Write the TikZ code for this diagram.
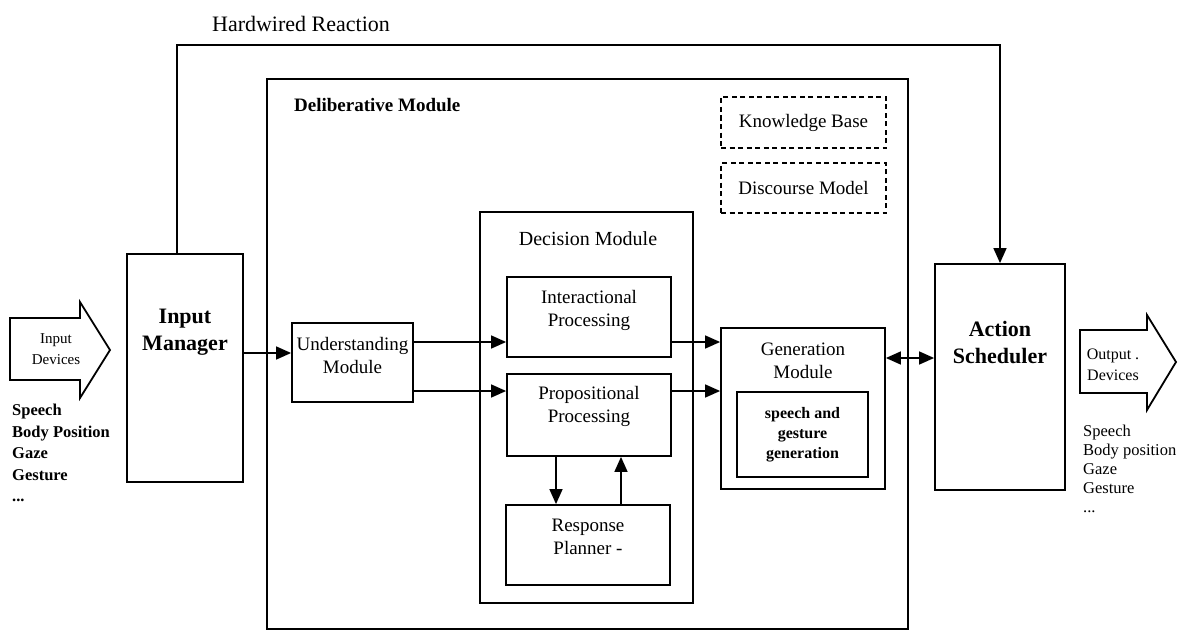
\documentclass[tikz,border=0pt]{standalone}
\usepackage{fontspec}
\setmainfont{Liberation Serif}
\usetikzlibrary{arrows.meta}
\begin{document}
\begin{tikzpicture}[x=1pt,y=-1pt,
  box/.style={draw, line width=1.8pt, rectangle, inner sep=0pt, align=center},
  dbox/.style={draw, line width=1.8pt, dash pattern=on 5pt off 3.5pt, inner sep=0pt, align=center},
  conn/.style={line width=1.5pt, -{Triangle[length=15pt,width=13pt]}},
  dconn/.style={line width=1.5pt, {Triangle[length=15pt,width=13pt]}-{Triangle[length=15pt,width=13pt]}},
  txt/.style={inner sep=0pt, align=center},
  bigb/.style={font=\fontsize{22}{27}\selectfont\bfseries},
  mid/.style={font=\fontsize{19}{23}\selectfont},
  small/.style={font=\fontsize{16}{20}\selectfont\bfseries},
  devs/.style={font=\fontsize{15}{21}\selectfont},
  devarrow/.style={draw, line width=1.8pt, line join=miter}
]
\useasboundingbox (0,0) rectangle (1184,634);

% title of hardwired path
\node[txt, font=\fontsize{22}{26}\selectfont] (hw) at (301,24) {Hardwired Reaction};

% deliberative module
\node[box, minimum width=641, minimum height=550] (del) at (587.5,354) {};
\node[txt, anchor=west, font=\fontsize{19}{23}\selectfont\bfseries] (deltitle) at (294,105) {Deliberative Module};

\node[dbox, minimum width=165, minimum height=51, mid] (kb) at (803.5,122.5) {Knowledge Base};
\node[dbox, minimum width=165, minimum height=50, mid] (dm) at (803.5,188) {Discourse Model};

% input manager
\node[box, minimum width=116, minimum height=228] (im) at (185,368) {};
\node[txt, bigb] (imtext) at (185,332) {Input\\Manager};

% action scheduler
\node[box, minimum width=130, minimum height=226] (as) at (1000,377) {};
\node[txt, bigb] (astext) at (1000,342) {Action\\Scheduler};

% understanding
\node[box, minimum width=121, minimum height=79] (und) at (352.5,362.5) {};
\node[txt, mid] (undtext) at (352.5,355) {Understanding\\Module};

% decision module
\node[box, minimum width=213, minimum height=391] (dec) at (586.5,407.5) {};
\node[txt, font=\fontsize{20}{24}\selectfont] (dectitle) at (588,239) {Decision Module};

\node[box, minimum width=164, minimum height=80] (inter) at (589,317) {};
\node[txt, mid] (intertext) at (589,310) {Interactional\\Processing};
\node[box, minimum width=164, minimum height=82] (prop) at (589,415) {};
\node[txt, mid] (proptext) at (589,406) {Propositional\\Processing};
\node[box, minimum width=164, minimum height=80] (resp) at (588,545) {};
\node[txt, mid] (resptext) at (588,537) {Response\\Planner -};

% generation module
\node[box, minimum width=164, minimum height=161] (gen) at (803,408.5) {};
\node[txt, mid] (gentext) at (803,361) {Generation\\Module};
\node[box, minimum width=131, minimum height=85, small] (sg) at (802.5,434.5) {speech and\\gesture\\generation};

% input / output device arrows
\draw[devarrow] (10,318) -- (80,318) -- (80,302) -- (110,350) -- (80,398) -- (80,380) -- (10,380) -- cycle;
\node[txt, devs] (indev) at (56,349) {Input\\Devices};
\draw[devarrow] (1080,330) -- (1147,330) -- (1147,315) -- (1176,362) -- (1147,410) -- (1147,393) -- (1080,393) -- cycle;
\node[txt, font=\fontsize{16}{21}\selectfont] (outdev) at (1113,365) {Output .\\Devices};

% device lists
\node[txt, anchor=north west, align=left, font=\fontsize{16.5}{21.5}\selectfont\bfseries] (inlist) at (12,404)
  {Speech\\Body Position\\Gaze\\Gesture\\...};
\node[txt, anchor=north west, align=left, font=\fontsize{16.5}{19}\selectfont] (outlist) at (1083,425)
  {Speech\\Body position\\Gaze\\Gesture\\...};

% connectors
\draw[conn] (im.north -| 177,0) -- (177,45) -- (1000,45) -- (as.north);
\draw[conn] (im.east |- 0,353) -- (und.west |- 0,353);
\draw[conn] (und.east |- 0,342) -- (inter.west |- 0,342);
\draw[conn] (und.east |- 0,391) -- (prop.west |- 0,391);
\draw[conn] (inter.east |- 0,342) -- (gen.west |- 0,342);
\draw[conn] (prop.east |- 0,391) -- (gen.west |- 0,391);
\draw[conn] (prop.south -| 556,0) -- (resp.north -| 556,0);
\draw[conn] (resp.north -| 621,0) -- (prop.south -| 621,0);
\draw[dconn] (gen.east |- 0,358) -- (as.west |- 0,358);
\end{tikzpicture}
\end{document}
